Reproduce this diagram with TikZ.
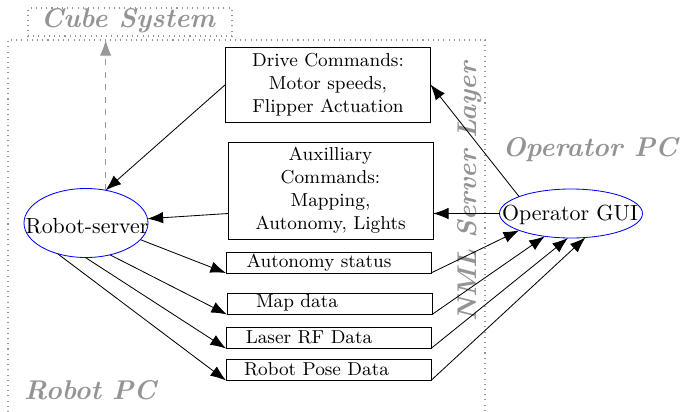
\documentclass[tikz,border=0pt]{standalone}
\usetikzlibrary{arrows.meta,shapes.geometric}
\begin{document}
\begin{tikzpicture}[x=0.48pt,y=-0.48pt,
  every node/.style={inner sep=0pt, outer sep=0pt},
  region/.style={draw=black!42, dotted, line width=0.5pt},
  biglabel/.style={text=black!42, font=\fontsize{13}{15}\selectfont\bfseries\itshape},
  cmdbox/.style={draw, align=center, font=\small, minimum width=205*0.48pt},
  databox/.style={draw, minimum width=205*0.48pt, minimum height=21*0.48pt},
  datatext/.style={font=\small},
  proc/.style={draw=blue, ellipse},
  proctext/.style={font=\fontsize{10.5}{12}\selectfont},
  arr/.style={-{Latex[length=7.5pt,width=5.5pt]}},
  garr/.style={-{Latex[length=7.5pt,width=5.5pt]}, draw=black!40, dashed, line width=0.5pt}
]
\useasboundingbox (0,0) rectangle (680,412);

% regions
\draw[region] (8,412) -- (8,40) -- (485,40) -- (485,412);
\node[region, draw, minimum width=204*0.48pt, minimum height=28*0.48pt] (cubebox) at (130,22) {};
\node[biglabel] (cubet) at (128,21) {Cube System};
\node[biglabel] (robotpc) at (90,390) {Robot PC};
\node[biglabel] (oppc) at (590,150) {Operator PC};
\node[biglabel, rotate=90] (nml) at (470,192) {NML Server Layer};

% processes
\node[proc, minimum width=124*0.48pt, minimum height=69*0.48pt] (rs) at (86,223) {};
\node[proctext] (rst) at (87,226) {Robot-server};
\node[proc, minimum width=143*0.48pt, minimum height=49*0.48pt] (op) at (571,213.5) {};
\node[proctext] (opt) at (570,215) {Operator GUI};

% command boxes
\node[cmdbox, minimum height=75*0.48pt] (drive) at (328,84.5)
  {Drive Commands:\\Motor speeds,\\Flipper Actuation};
\node[cmdbox, minimum height=97*0.48pt] (aux) at (330.5,190.5)
  {Auxilliary\\Commands:\\Mapping,\\Autonomy, Lights};

% data boxes
\node[databox] (auto) at (328.5,262.5) {};
\node[datatext] (autot) at (319,263) {Autonomy status};
\node[databox] (map) at (329.5,304) {};
\node[datatext] (mapt) at (297,303) {Map data};
\node[databox] (laser) at (328.5,338) {};
\node[datatext] (lasert) at (309,337) {Laser RF Data};
\node[databox] (pose) at (328.5,370) {};
\node[datatext] (poset) at (316.5,369) {Robot Pose Data};

\coordinate (cubeup) at (103,40);

% connectors
\draw[garr] (rs.59) -- (rs.59 |- cubeup);
\draw[arr] (drive.west) -- (rs.59);
\draw[arr] (op.west -| aux.west) -- (rs.4);
\draw[arr] (op.162) -- (drive.east);
\draw[arr] (op.west) -- (op.west -| aux.east);

\draw[arr] (rs.-17) -- (auto.south west);
\draw[arr] (rs.-53) -- (map.south west);
\draw[arr] (rs.-91) -- (laser.south west);
\draw[arr] (rs.-133) -- (pose.south west);

\draw[arr] (auto.south east) -- (op.-162.5);
\draw[arr] (map.south east) -- (op.-139.4);
\draw[arr] (laser.south east) -- (op.-97);
\draw[arr] (pose.south east) -- (op.-59.7);
\end{tikzpicture}
\end{document}
